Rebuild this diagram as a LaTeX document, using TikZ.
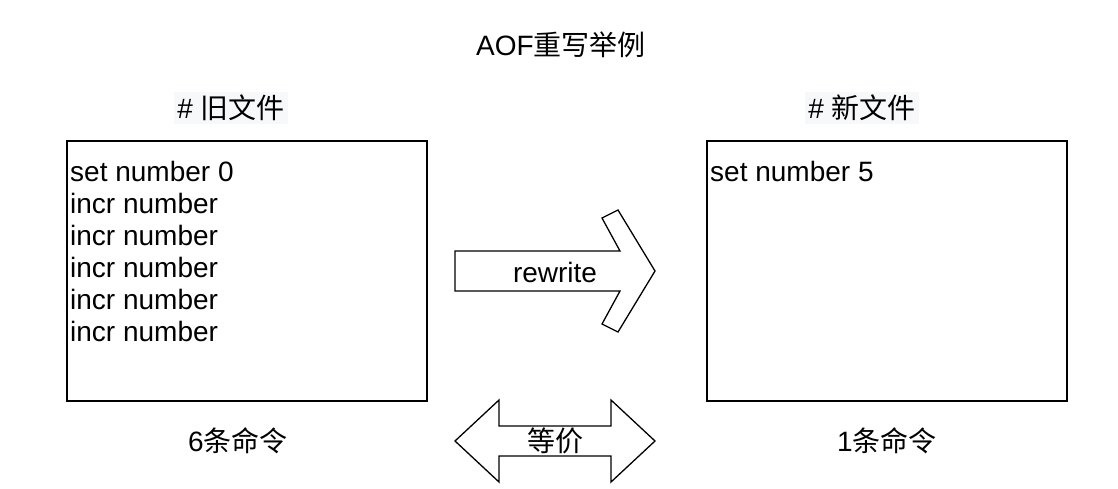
\documentclass[tikz,border=0pt]{standalone}
\usepackage{fontspec}
\setmainfont{Liberation Sans}
\newfontfamily\cjk{Noto Sans CJK SC}
\usetikzlibrary{positioning}
\definecolor{labelbg}{RGB}{247,248,250}

\begin{document}
\begin{tikzpicture}[x=1pt,y=-1pt]
\tikzstyle{file}=[draw,line width=1.3pt,minimum width=360pt,minimum height=260pt,inner sep=0pt]
\tikzstyle{cmd}=[anchor=base west,inner sep=0pt,font=\fontsize{28}{32}\selectfont]
\tikzstyle{txt}=[inner sep=1pt,font=\fontsize{28}{32}\selectfont]
\tikzstyle{heading}=[txt,fill=labelbg,inner sep=3pt]
\tikzstyle{bigarrow}=[draw,line width=1.3pt,line join=miter]

 \useasboundingbox (0,0) rectangle (1118,488);

 \node[txt] (title) at (561,45) {AOF{\cjk 重写举例}};

 % old file
 \node[heading] (oldhead) at (231,108) {\# {\cjk 旧文件}};
 \node[file] (old) at (247,271) {};
 \node[cmd] (old0) at (70,181) {set number 0};
 \foreach \i in {1,...,5}
   \node[cmd] (old\i) at (70,181+32*\i) {incr number};
 \node[txt] (oldcount) at (238,441) {6{\cjk 条命令}};

 % new file
 \node[heading] (newhead) at (862,108) {\# {\cjk 新文件}};
 \node[file] (new) at (887,271) {};
 \node[cmd] (new0) at (710,181) {set number 5};
 \node[txt] (newcount) at (887,441) {1{\cjk 条命令}};

 % arrows
 \draw[bigarrow] (455,251) -- (620,251) -- (602,218) -- (618,210) -- (655,271)
   -- (618,332) -- (602,324) -- (620,291) -- (455,291) -- cycle;
 \node[txt] (rewrite) at (555,272) {rewrite};

 \draw[bigarrow] (455,441) -- (499,400) -- (499,426) -- (611,426) -- (611,400)
   -- (655,441) -- (611,482) -- (611,456) -- (499,456) -- (499,482) -- cycle;
 \node[txt] (equal) at (555,441) {\cjk 等价};
\end{tikzpicture}
\end{document}
